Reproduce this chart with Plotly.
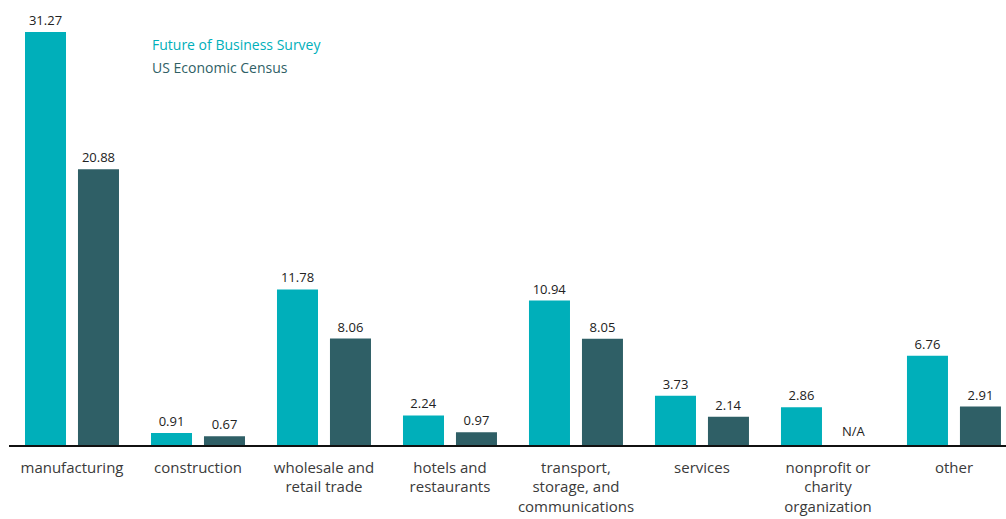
import plotly.graph_objects as go

categories = [
    "manufacturing",
    "construction",
    "wholesale and<br>retail trade",
    "hotels and<br>restaurants",
    "transport,<br>storage, and<br>communications",
    "services",
    "nonprofit or<br>charity<br>organization",
    "other",
]
survey_values = [31.27, 0.91, 11.78, 2.24, 10.94, 3.73, 2.86, 6.76]
census_values = [20.88, 0.67, 8.06, 0.97, 8.05, 2.14, None, 2.91]
series_names = ["Future of Business Survey", "US Economic Census"]

TEAL = "#00AFBA"
SLATE = "#2F5F66"
FONT = "'Open Sans', 'Noto Sans', sans-serif"


def fmt(v):
    return "" if v is None else f"{v:.2f}"


fig = go.Figure()
fig.add_trace(go.Bar(
    x=categories, y=survey_values, name=series_names[0],
    marker=dict(color=TEAL, line=dict(width=0)),
    text=[fmt(v) for v in survey_values], textposition="outside",
    textfont=dict(size=13, color="#222222", family=FONT),
    cliponaxis=False,
))
fig.add_trace(go.Bar(
    x=categories, y=census_values, name=series_names[1],
    marker=dict(color=SLATE, line=dict(width=0)),
    text=[fmt(v) for v in census_values], textposition="outside",
    textfont=dict(size=13, color="#222222", family=FONT),
    cliponaxis=False,
))

# Missing census value marker
fig.add_annotation(
    x=categories[6], y=0, xref="x", yref="y", text="N/A",
    showarrow=False, xshift=26.5, yanchor="bottom", yshift=3,
    font=dict(size=13, color="#222222", family=FONT),
)

# Text-only legend
fig.add_annotation(
    x=150, y=44, xref="paper", yref="paper", text=series_names[0],
    showarrow=False, xanchor="left", yanchor="middle",
    font=dict(size=14, color=TEAL, family=FONT),
)
fig.add_annotation(
    x=150, y=67, xref="paper", yref="paper", text=series_names[1],
    showarrow=False, xanchor="left", yanchor="middle",
    font=dict(size=14, color=SLATE, family=FONT),
)

plot_h = 445
scale = (445 - 32) / 31.27
fig.update_layout(
    width=1006, height=519,
    margin=dict(l=9, r=0, t=0, b=74),
    paper_bgcolor="white", plot_bgcolor="white",
    barmode="group", bargap=0.159, bargroupgap=0.226,
    showlegend=False,
    font=dict(family=FONT),
    xaxis=dict(
        type="category", range=[-0.5, 7.413],
        showline=True, linecolor="#111111", linewidth=1.5,
        ticks="", showgrid=False, ticklabelstandoff=8,
        tickfont=dict(size=15, color="#3a3a3a", family=FONT),
    ),
    yaxis=dict(
        range=[0, plot_h / scale], visible=False, showgrid=False,
    ),
)

# Convert legend annotation positions from pixels to paper coordinates
pw = 1006 - 9
ph = 445
for ann in fig.layout.annotations:
    if ann.xref == "paper":
        ann.x = (ann.x - 9) / pw
        ann.y = 1 - ann.y / ph

fig.write_html("out.html")
